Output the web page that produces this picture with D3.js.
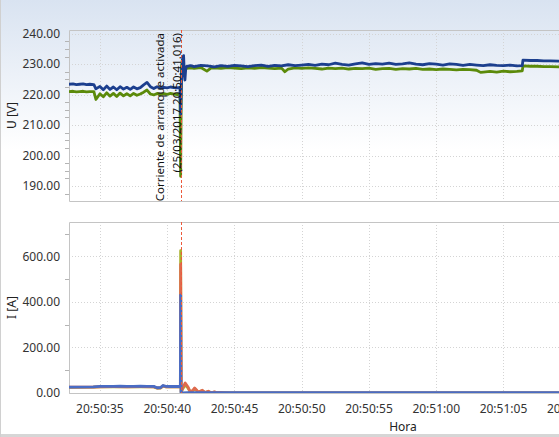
<!DOCTYPE html>
<html>
<head>
<meta charset="utf-8">
<script src="https://cdn.jsdelivr.net/npm/d3@7"></script>
<style>
  body { margin: 0; background: #fff; }
  svg { display: block; font-family: "Noto Sans", "Open Sans", sans-serif; }
</style>
</head>
<body>
<div id="chart"></div>
<script>
// Data: [seconds after 20:50:00, value]
// Voltage L1 (blue) and L2 (green), in V
const voltageBlue = [
  [32.7, 223.4], [33.0, 223.5], [33.25, 223.3], [33.5, 223.4], [33.75, 223.5], [34.0, 223.3],
  [34.25, 223.4], [34.55, 223.3], [34.7, 221.9], [35.0, 222.7], [35.25, 221.6], [35.5, 222.8],
  [35.75, 221.7], [36.0, 222.5], [36.25, 221.6], [36.5, 222.6], [36.75, 221.8], [37.0, 222.4],
  [37.25, 221.7], [37.5, 222.5], [37.75, 221.9], [38.0, 222.3], [38.25, 223.2], [38.5, 224.0],
  [38.75, 222.6], [39.0, 222.0], [39.25, 222.6], [39.5, 222.1], [39.75, 222.4], [40.0, 222.2],
  [40.25, 222.5], [40.5, 222.3], [40.75, 222.2], [40.95, 222.4],
  [41.0, 213.6], [41.08, 227.0], [41.16, 232.3], [41.22, 232.8], [41.28, 226.0], [41.32, 224.8],
  [41.38, 228.6], [41.45, 229.3], [41.75, 229.5], [42.0, 229.2], [42.5, 229.6], [43.0, 229.4],
  [43.5, 229.1], [44.0, 229.5], [44.5, 229.3], [45.0, 229.6], [45.5, 229.4], [46.0, 229.2],
  [46.5, 229.5], [47.0, 229.7], [47.5, 229.3], [48.0, 229.6], [48.5, 229.4], [49.0, 229.8],
  [49.5, 229.5], [50.0, 229.7], [50.5, 229.9], [51.0, 229.6], [51.5, 230.0], [52.0, 229.8],
  [52.5, 230.3], [53.0, 229.9], [53.5, 229.7], [54.0, 230.1], [54.5, 230.4], [55.0, 229.9],
  [55.5, 230.2], [56.0, 230.0], [56.5, 230.3], [57.0, 229.9], [57.5, 230.1], [58.0, 230.4],
  [58.5, 230.0], [59.0, 229.8], [59.5, 230.2], [60.0, 230.0], [60.5, 229.7], [61.0, 230.1],
  [61.5, 229.9], [62.0, 229.6], [62.5, 229.9], [63.0, 229.7], [63.5, 229.5], [64.0, 229.8],
  [64.5, 229.6], [65.0, 229.5], [65.5, 229.7], [66.0, 229.4], [66.4, 229.5], [66.45, 231.3],
  [67.0, 231.2], [67.5, 231.2], [68.0, 231.1], [68.5, 231.1], [69.3, 231.0]
];
const voltageGreen = [
  [32.7, 221.0], [33.0, 221.1], [33.25, 220.9], [33.5, 221.0], [33.75, 221.1], [34.0, 220.9],
  [34.25, 221.0], [34.55, 221.0], [34.7, 218.4], [35.0, 220.3], [35.25, 219.3], [35.5, 220.6],
  [35.75, 219.5], [36.0, 220.4], [36.25, 219.4], [36.5, 220.5], [36.75, 219.6], [37.0, 220.3],
  [37.25, 219.6], [37.5, 220.4], [37.75, 219.8], [38.0, 220.2], [38.25, 220.8], [38.5, 221.5],
  [38.75, 220.2], [39.0, 219.9], [39.25, 220.4], [39.5, 220.0], [39.75, 220.3], [40.0, 220.1],
  [40.25, 220.4], [40.5, 220.2], [40.75, 220.0], [40.95, 220.3],
  [41.0, 193.2], [41.06, 229.0], [41.12, 231.3], [41.2, 229.4], [41.3, 227.6], [41.38, 228.4],
  [41.45, 228.6], [41.75, 228.8], [42.0, 228.6], [42.5, 228.9], [42.95, 227.7], [43.25, 228.7],
  [43.5, 228.8], [44.0, 228.6], [44.5, 228.9], [45.0, 228.7], [45.5, 228.5], [46.0, 228.8],
  [46.5, 228.6], [47.0, 228.9], [47.5, 228.7], [48.0, 228.5], [48.5, 228.7], [48.75, 227.5],
  [49.0, 228.4], [49.5, 228.8], [50.0, 228.6], [50.5, 228.8], [51.0, 228.6], [51.5, 228.4],
  [52.0, 228.7], [52.5, 228.5], [53.0, 228.7], [53.5, 228.4], [54.0, 228.6], [54.5, 228.5],
  [55.0, 228.7], [55.5, 228.3], [56.0, 228.5], [56.5, 228.6], [57.0, 228.3], [57.5, 228.5],
  [58.0, 228.4], [58.5, 228.6], [59.0, 228.3], [59.5, 228.4], [60.0, 228.2], [60.5, 228.4],
  [61.0, 228.3], [61.5, 228.1], [62.0, 228.3], [62.5, 228.2], [63.0, 228.0], [63.3, 227.3],
  [63.5, 227.4], [64.0, 227.6], [64.5, 227.4], [65.0, 227.7], [65.5, 227.5], [66.0, 227.6],
  [66.4, 227.8], [66.45, 229.4], [67.0, 229.3], [67.5, 229.3], [68.0, 229.2], [68.5, 229.2],
  [69.3, 229.1]
];

// Currents L1 (blue), L2 (red), L3 (yellow-green), in A
const currentGreen = [
  [32.7, 25], [34.5, 25.5], [35.0, 27], [36.0, 27.5], [37.0, 27], [38.0, 27.5], [39.0, 27],
  [39.25, 21], [39.5, 22], [39.7, 30], [39.9, 27], [40.5, 26.5], [40.98, 26.5],
  [41.0, 625], [41.04, 4], [41.15, 18], [41.34, 36], [41.55, 22], [41.72, 4], [41.9, 10],
  [42.04, 18], [42.2, 10], [42.31, 3], [42.45, 7], [42.61, 10], [42.73, 5], [42.84, 2],
  [42.95, 4], [43.06, 6], [43.17, 3], [43.28, 1], [43.4, 2], [43.51, 4], [43.7, 2],
  [43.96, 2], [44.3, 1], [44.7, 0.5], [69.3, 0.5]
];
const currentRed = [
  [32.7, 25.5], [34.5, 26], [35.0, 27.5], [36.0, 28], [37.0, 27.5], [38.0, 28], [39.0, 27.5],
  [39.25, 22], [39.5, 22.5], [39.7, 31], [39.9, 27.5], [40.5, 27], [40.98, 27],
  [41.0, 565], [41.04, 5], [41.15, 22], [41.34, 44], [41.55, 26], [41.72, 4], [41.9, 12],
  [42.04, 22], [42.2, 12], [42.31, 3], [42.45, 8], [42.61, 12], [42.73, 6], [42.84, 2],
  [42.95, 5], [43.06, 8], [43.17, 4], [43.28, 1], [43.4, 3], [43.51, 5], [43.7, 2],
  [43.96, 3], [44.3, 1], [44.7, 0.5], [69.3, 0.5]
];
const currentBlue = [
  [32.7, 26], [34.5, 26.5], [35.0, 29], [35.5, 29.5], [36.0, 29], [36.5, 30], [37.0, 29.5],
  [37.5, 29], [38.0, 30], [38.5, 29.5], [39.0, 29], [39.25, 23], [39.5, 24], [39.7, 33],
  [39.9, 29], [40.3, 28.5], [40.7, 29], [40.98, 28.5],
  [41.0, 430], [41.03, -3], [41.1, 0], [41.5, 1.5], [69.3, 1.5]
];

// Axis ticks
const voltageTicks = [190, 200, 210, 220, 230, 240];
const currentTicks = [0, 200, 400, 600];
const eventSecond = 41.016;
const eventLabel = ['Corriente de arranque activada', '(25/03/2017 20:50:41.016)'];

const base = new Date(2017, 2, 25, 20, 50, 0);
const toDate = s => new Date(base.getTime() + s * 1000);

const W = 559, H = 437;
const left = 69, right = 559;
const topPanel = { y0: 30, y1: 201 };
const botPanel = { y0: 222, y1: 393 };

const xScale = d3.scaleTime()
  .domain([toDate(32.7), toDate(69.13)])
  .range([left, right]);
const yU = d3.scaleLinear().domain([185.1, 241.2]).range([topPanel.y1, topPanel.y0]);
const yI = d3.scaleLinear().domain([0, 751]).range([botPanel.y1, botPanel.y0]);

const svg = d3.select('#chart').append('svg')
  .attr('width', W)
  .attr('height', H);

// background gradient at the top
const defs = svg.append('defs');
const grad = defs.append('linearGradient')
  .attr('id', 'bg').attr('x1', 0).attr('y1', 0).attr('x2', 0).attr('y2', 1);
grad.append('stop').attr('offset', 0).attr('stop-color', '#d9e3f1');
grad.append('stop').attr('offset', 1).attr('stop-color', '#ffffff');
svg.append('rect').attr('x', 0).attr('y', 0).attr('width', W).attr('height', 150)
  .attr('fill', 'url(#bg)');

[['clipU', topPanel], ['clipI', botPanel]].forEach(([id, p]) => {
  defs.append('clipPath').attr('id', id)
    .append('rect')
    .attr('x', left).attr('y', p.y0)
    .attr('width', right - left + 2).attr('height', p.y1 - p.y0);
});

// 5 second ticks; the last one (20:51:10) sits past the window edge and is cut
const timeTicks = d3.timeSecond.every(5).range(toDate(35), toDate(71));

const drawPanel = (p, yScale, majors, minorStep, label) => {
  const g = svg.append('g');
  // vertical grid
  g.selectAll('.vg').data(timeTicks.filter(d => xScale(d) < right)).enter().append('line')
    .attr('x1', d => Math.round(xScale(d)) + 0.5).attr('x2', d => Math.round(xScale(d)) + 0.5)
    .attr('y1', p.y0).attr('y2', p.y1)
    .attr('stroke', '#d4d4d4').attr('stroke-dasharray', '1,2');
  // horizontal grid
  g.selectAll('.hg').data(majors).enter().append('line')
    .attr('x1', left).attr('x2', right)
    .attr('y1', d => Math.round(yScale(d)) + 0.5).attr('y2', d => Math.round(yScale(d)) + 0.5)
    .attr('stroke', '#d4d4d4').attr('stroke-dasharray', '1,2');
  // minor ticks
  const [lo, hi] = yScale.domain();
  const minors = d3.range(Math.ceil(lo / minorStep) * minorStep, hi, minorStep)
    .filter(v => !majors.includes(v));
  g.selectAll('.mt').data(minors).enter().append('line')
    .attr('x1', left - 4).attr('x2', left)
    .attr('y1', d => Math.round(yScale(d)) + 0.5).attr('y2', d => Math.round(yScale(d)) + 0.5)
    .attr('stroke', '#b4b4b4');
  // tick labels
  g.selectAll('.tl').data(majors).enter().append('text')
    .attr('x', 60).attr('y', d => yScale(d)).attr('dy', '0.35em')
    .attr('text-anchor', 'end').attr('font-size', 12).attr('fill', '#333')
    .text(d => d3.format('.2f')(d));
  // frame
  g.append('path')
    .attr('d', `M${right + 2},${p.y0 + 0.5}H${left + 0.5}V${p.y1 + 0.5}H${right + 2}`)
    .attr('fill', 'none').attr('stroke', '#c4c4c4');
  // axis title
  const cy = (p.y0 + p.y1) / 2;
  g.append('text')
    .attr('transform', `translate(16, ${cy}) rotate(-90)`)
    .attr('text-anchor', 'middle').attr('font-size', 12).attr('fill', '#222')
    .text(label);
};

drawPanel(topPanel, yU, voltageTicks, 2.5, 'U [V]');
drawPanel(botPanel, yI, currentTicks, 100, 'I [A]');

// series
const lineOf = yScale => d3.line()
  .x(d => xScale(toDate(d[0])))
  .y(d => yScale(d[1]));

const gU = svg.append('g').attr('clip-path', 'url(#clipU)');
[[voltageGreen, '#5b8a0a'], [voltageBlue, '#1c3f8e']].forEach(([data, color]) => {
  gU.append('path').datum(data)
    .attr('fill', 'none').attr('stroke', color)
    .attr('stroke-width', 2.8).attr('stroke-linejoin', 'round')
    .attr('d', lineOf(yU));
});

const gI = svg.append('g').attr('clip-path', 'url(#clipI)');
[[currentGreen, '#a9b22c'], [currentRed, '#de6a4e'], [currentBlue, '#4a6cc4']].forEach(([data, color]) => {
  gI.append('path').datum(data)
    .attr('fill', 'none').attr('stroke', color)
    .attr('stroke-width', 2.8).attr('stroke-linejoin', 'round')
    .attr('d', lineOf(yI));
});

// event marker
const ex = Math.round(xScale(toDate(eventSecond))) + 0.5;
[topPanel, botPanel].forEach(p => {
  svg.append('line')
    .attr('x1', ex).attr('x2', ex).attr('y1', p.y0).attr('y2', p.y1)
    .attr('stroke', '#ec5a3c').attr('stroke-width', 1).attr('stroke-dasharray', '3,2');
});
svg.append('text')
  .attr('transform', `translate(${ex - 18}, 33) rotate(-90)`)
  .attr('text-anchor', 'end').attr('font-size', 11.5).attr('fill', '#111')
  .selectAll('tspan').data(eventLabel).enter().append('tspan')
  .attr('x', 0).attr('dy', (d, i) => i === 0 ? 0 : 17)
  .text(d => d);

// time axis labels
svg.append('g').selectAll('text').data(timeTicks).enter().append('text')
  .attr('x', d => xScale(d)).attr('y', 409).attr('dy', '0.35em')
  .attr('text-anchor', 'middle').attr('font-size', 12).attr('fill', '#333')
  .text(d3.timeFormat('%H:%M:%S'));
svg.append('text')
  .attr('x', 403).attr('y', 427).attr('dy', '0.35em')
  .attr('text-anchor', 'middle').attr('font-size', 12).attr('fill', '#222')
  .text('Hora');

// window edges
svg.append('rect').attr('x', 0).attr('y', 434).attr('width', W).attr('height', 3).attr('fill', '#d6d6d6');
svg.append('line').attr('x1', 0.5).attr('x2', 0.5).attr('y1', 0).attr('y2', H).attr('stroke', '#d0d0d0');
</script>
</body>
</html>
